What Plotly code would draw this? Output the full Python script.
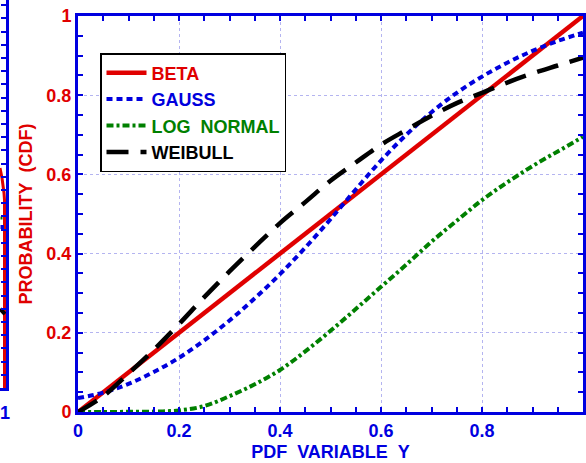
import plotly.graph_objects as go

# ---- data ----
y_var = [0.0, 0.05, 0.1, 0.15, 0.2, 0.25, 0.3, 0.35, 0.4, 0.45, 0.5,
         0.55, 0.6, 0.65, 0.7, 0.75, 0.8, 0.85, 0.9, 0.95, 1.0]
beta_cdf = [0.0, 0.05, 0.1, 0.15, 0.2, 0.25, 0.3, 0.35, 0.4, 0.45, 0.5,
            0.55, 0.6, 0.65, 0.7, 0.75, 0.8, 0.85, 0.9, 0.95, 1.0]
gauss_cdf = [0.035, 0.049, 0.071, 0.101, 0.137, 0.181, 0.231, 0.287, 0.348, 0.415, 0.487,
             0.562, 0.635, 0.700, 0.757, 0.806, 0.847, 0.882, 0.912, 0.937, 0.958]
lognormal_cdf = [0.0, 0.0, 0.0005, 0.001, 0.004, 0.015, 0.04, 0.07, 0.106, 0.153, 0.205,
                 0.26, 0.316, 0.372, 0.43, 0.483, 0.535, 0.58, 0.621, 0.658, 0.695]
weibull_cdf = [0.0, 0.04, 0.097, 0.157, 0.222, 0.29, 0.355, 0.417, 0.477, 0.53, 0.584,
               0.63, 0.675, 0.712, 0.748, 0.78, 0.806, 0.832, 0.855, 0.875, 0.895]

x_ticks = [0, 0.2, 0.4, 0.6, 0.8, 1]
x_ticktext = ["0", "0.2", "0.4", "0.6", "0.8", "1"]
y_ticks = [0, 0.2, 0.4, 0.6, 0.8, 1]
y_ticktext = ["0", "0.2", "0.4", "0.6", "0.8", "1"]

# fragment of the neighbouring panel visible at the left edge
frag_red_x = [0, 2, 4, 4.5, 4.5]
frag_red_y = [220, 210, 195, 188, 0]
frag_blue_x = [0.5, 4]
frag_blue_y = [161, 161]
frag_green_x = [0.5, 3]
frag_green_y = [170, 170]
frag_black_x = [0, 5]
frag_black_y = [79, 74]

RED = "#E00000"
BLUE = "#0000DD"
GREEN = "#008000"
BLACK = "#000000"
AXBLUE = "#0000E0"
GRID = "#B4B4F0"
FONT = "Liberation Sans"

W, H = 586, 463
ML, MR, MT, MB = 0, 3, 0, 51
PW = W - ML - MR
PH = H - MT - MB

fig = go.Figure()

def lab(txt, col):
    return f"<span style='color:{col}'>{txt}</span>"

fig.add_trace(go.Scatter(x=y_var, y=beta_cdf, mode="lines", name=lab("BETA", RED),
                         line=dict(color=RED, width=4.5)))
fig.add_trace(go.Scatter(x=y_var, y=gauss_cdf, mode="lines", name=lab("GAUSS", BLUE),
                         line=dict(color=BLUE, width=4, dash="6px,4px", shape="spline")))
fig.add_trace(go.Scatter(x=y_var, y=lognormal_cdf, mode="lines",
                         name=lab("LOG\u00a0\u00a0NORMAL", GREEN),
                         line=dict(color=GREEN, width=4, dash="7px,3px,3px,3px", shape="spline")))
fig.add_trace(go.Scatter(x=y_var, y=weibull_cdf, mode="lines", name=lab("WEIBULL", BLACK),
                         line=dict(color=BLACK, width=4.5, dash="22px,12px", shape="spline")))

# neighbouring panel fragment
fig.add_trace(go.Scatter(x=frag_red_x, y=frag_red_y, mode="lines", xaxis="x2", yaxis="y2",
                         showlegend=False, line=dict(color=RED, width=3)))
fig.add_trace(go.Scatter(x=frag_blue_x, y=frag_blue_y, mode="lines", xaxis="x2", yaxis="y2",
                         showlegend=False, line=dict(color=BLUE, width=4)))
fig.add_trace(go.Scatter(x=frag_green_x, y=frag_green_y, mode="lines", xaxis="x2", yaxis="y2",
                         showlegend=False, line=dict(color=GREEN, width=3, dash="2px,2px")))
fig.add_trace(go.Scatter(x=frag_black_x, y=frag_black_y, mode="lines", xaxis="x2", yaxis="y2",
                         showlegend=False, line=dict(color=BLACK, width=4)))

tickfont_x = dict(family=FONT, size=18, color=AXBLUE, weight="bold")
tickfont_y = dict(family=FONT, size=18, color=RED, weight="bold")

fig.update_layout(
    width=W, height=H,
    margin=dict(l=ML, r=MR, t=MT, b=MB, autoexpand=False),
    paper_bgcolor="white", plot_bgcolor="white",
    showlegend=True,
    legend=dict(
        x=100 / PW, y=1 - 53 / PH, xanchor="left", yanchor="top",
        bgcolor="white", bordercolor="black", borderwidth=1.5,
        font=dict(family=FONT, size=18, weight="bold"),
        itemwidth=40, tracegroupgap=0,
    ),
    xaxis=dict(
        domain=[78 / PW, 1], range=[0, 1], anchor="y",
        tickvals=x_ticks, ticktext=x_ticktext, tickfont=tickfont_x,
        ticks="inside", ticklen=5, tickwidth=1.5, tickcolor=AXBLUE,
        minor=dict(dtick=0.05, tick0=0, ticks="inside", ticklen=5, tickwidth=1.5,
                   tickcolor=AXBLUE, showgrid=False),
        showline=True, linewidth=3, linecolor=AXBLUE, mirror="ticks",
        showgrid=True, gridcolor=GRID, gridwidth=1, griddash="dot",
        zeroline=False,
        title=dict(text="PDF\u00a0\u00a0VARIABLE\u00a0\u00a0Y",
                   font=dict(family=FONT, size=18, color=AXBLUE, weight="bold"),
                   standoff=6),
    ),
    yaxis=dict(
        domain=[0, (PH - 16) / PH], range=[0, 1], anchor="x",
        tickvals=y_ticks, ticktext=y_ticktext, tickfont=tickfont_y,
        ticks="inside", ticklen=5, tickwidth=1.5, tickcolor=AXBLUE,
        minor=dict(dtick=0.05, tick0=0, ticks="inside", ticklen=5, tickwidth=1.5,
                   tickcolor=AXBLUE, showgrid=False),
        showline=True, linewidth=3, linecolor=AXBLUE, mirror="ticks",
        showgrid=True, gridcolor=GRID, gridwidth=1, griddash="dot",
        zeroline=False,
        title=dict(text="PROBABILITY\u00a0\u00a0(CDF)",
                   font=dict(family=FONT, size=18, color=RED, weight="bold"),
                   standoff=10),
    ),
    xaxis2=dict(
        domain=[0, 6 / PW], range=[0, 6], anchor="y2",
        showline=True, linewidth=3, linecolor=AXBLUE, showticklabels=False,
        ticks="", showgrid=False, zeroline=False,
    ),
    yaxis2=dict(
        domain=[24 / PH, 1], range=[0, 388], anchor="x2", side="right",
        showline=True, linewidth=3, linecolor=AXBLUE, showticklabels=False,
        ticks="inside", ticklen=5, tickwidth=1.5, tickcolor=AXBLUE,
        tick0=0, dtick=13.2, showgrid=False, zeroline=False,
    ),
    annotations=[dict(
        text="1", x=5 / PW, y=(PH - 413) / PH, xref="paper", yref="paper",
        showarrow=False, xanchor="center", yanchor="middle",
        font=dict(family=FONT, size=18, color=AXBLUE, weight="bold"),
    )],
)

fig.write_html("out.html")
